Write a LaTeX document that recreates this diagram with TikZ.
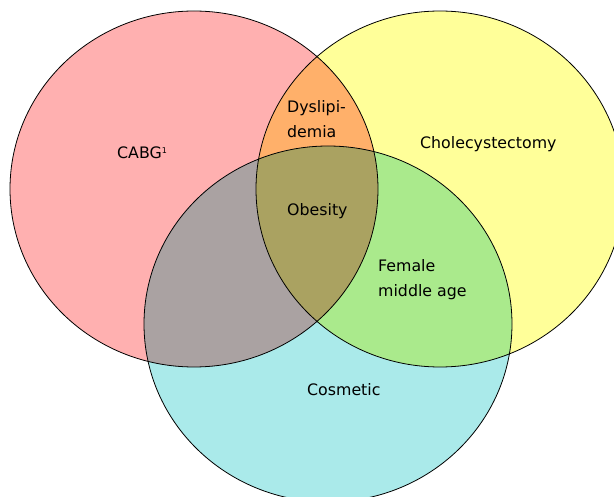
\documentclass[tikz,border=0pt]{standalone}
\usepackage{fontspec}
\setmainfont{DejaVu Sans}
\definecolor{cred}{RGB}{255,176,176}
\definecolor{cyel}{RGB}{255,255,153}
\definecolor{ccya}{RGB}{170,234,234}
\definecolor{corange}{RGB}{255,176,106}
\definecolor{cgrey}{RGB}{170,162,162}
\definecolor{cgreen}{RGB}{170,234,140}
\definecolor{colive}{RGB}{170,162,97}
\tikzset{
  lbl/.style={anchor=base west, inner sep=0pt, align=left, font=\fontsize{15.8}{25}\selectfont, text=black},
  outline/.style={draw=black, line width=0.8pt}
}
\newcommand{\redE}{(194,189) ellipse [x radius=184, y radius=178]}
\newcommand{\yelE}{(440,189) ellipse [x radius=184, y radius=178]}
\newcommand{\cyaE}{(328,324) ellipse [x radius=184, y radius=178]}
\begin{document}
\begin{tikzpicture}[x=1pt,y=-1pt]
\useasboundingbox (0,0) rectangle (614,497);
\clip (0,0) rectangle (614,497);
\fill[white] (0,0) rectangle (614,497);
% base fills
\fill[cred] \redE;
\fill[cyel] \yelE;
\fill[ccya] \cyaE;
% pairwise intersections
\begin{scope}
  \clip \redE;
  \fill[corange] \yelE;
\end{scope}
\begin{scope}
  \clip \redE;
  \fill[cgrey] \cyaE;
\end{scope}
\begin{scope}
  \clip \yelE;
  \fill[cgreen] \cyaE;
\end{scope}
\begin{scope}
  \clip \redE;
  \clip \yelE;
  \fill[colive] \cyaE;
\end{scope}
% outlines
\draw[outline] \redE;
\draw[outline] \yelE;
\draw[outline] \cyaE;
% labels
\node[lbl] (cabg) at (117,159) {CABG\textsuperscript{\fontsize{8}{8}\selectfont 1}};
\node[lbl] (dys) at (287,138) {Dyslipi-\\demia};
\node[lbl] (chol) at (420,149) {Cholecystectomy};
\node[lbl] (obes) at (287,216) {Obesity};
\node[lbl] (fem) at (378,297) {Female\\middle age};
\node[lbl] (cosm) at (307,396) {Cosmetic};
\end{tikzpicture}
\end{document}
